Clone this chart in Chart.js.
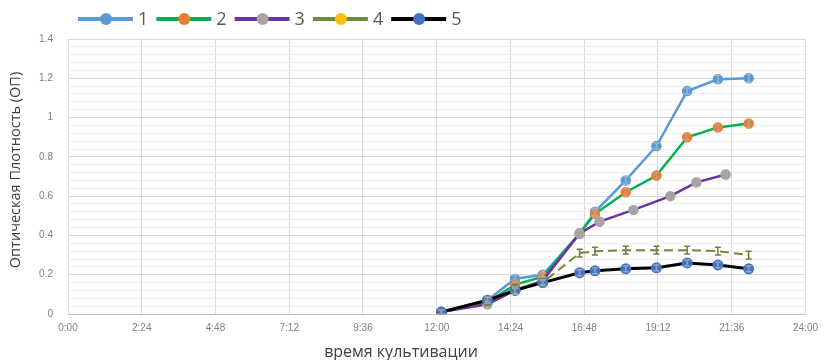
<!DOCTYPE html>
<html>
<head>
<meta charset="utf-8">
<script src="https://cdn.jsdelivr.net/npm/chart.js@4.4.1/dist/chart.umd.min.js"></script>
<style>
  html, body { margin: 0; padding: 0; background: #ffffff; }
  #wrap { width: 826px; height: 360px; position: relative; }
</style>
</head>
<body>
<div id="wrap"><canvas id="chart" width="826" height="360"></canvas></div>
<script>
// Sampling times, hours since start of cultivation
const times = [12.15, 13.65, 14.55, 15.45, 16.65, 17.15, 18.15, 19.15, 20.15, 21.15, 22.15];
const times3 = [12.15, 13.65, 14.55, 15.45, 16.65, 17.3, 18.4, 19.6, 20.45, 21.4];

// Optical density per culture
const od1 = [0.01, 0.07, 0.18, 0.20, 0.41, 0.52, 0.68, 0.855, 1.135, 1.195, 1.20];
const od2 = [0.01, 0.06, 0.15, 0.19, 0.41, 0.51, 0.62, 0.705, 0.90, 0.95, 0.97];
const od3 = [0.01, 0.05, 0.12, 0.17, 0.41, 0.47, 0.53, 0.60, 0.67, 0.71];
const od4 = [0.01, 0.06, 0.13, 0.16, 0.31, 0.32, 0.325, 0.325, 0.325, 0.32, 0.30];
const od5 = [0.01, 0.07, 0.12, 0.16, 0.21, 0.22, 0.23, 0.235, 0.26, 0.25, 0.23];

// Standard deviations
const sd1 = [0.01, 0.015, 0.02, 0.02, 0.02, 0.02, 0.02, 0.015, 0.015, 0.02, 0.02];
const sd2 = [0.01, 0.015, 0.02, 0.02, 0.02, 0.02, 0.02, 0.015, 0.015, 0.02, 0.02];
const sd3 = [0.01, 0.015, 0.02, 0.02, 0.02, 0.02, 0.015, 0.015, 0.02, 0.02];
const sd4 = [0.01, 0.015, 0.02, 0.02, 0.02, 0.02, 0.02, 0.02, 0.02, 0.02, 0.02];
const sd5 = [0.01, 0.015, 0.015, 0.015, 0.015, 0.015, 0.015, 0.015, 0.015, 0.015, 0.015];

const seriesNames = ['1', '2', '3', '4', '5'];
const xTickValues = [0, 2.4, 4.8, 7.2, 9.6, 12, 14.4, 16.8, 19.2, 21.6, 24];
const yTickLabels = ['0', '0.2', '0.4', '0.6', '0.8', '1', '1.2', '1.4'];

const xTitle = 'время культивации';
const yTitle = 'Оптическая Плотность (ОП)';

const styles = [
  { line: '#5B9BD5', marker: '#5B9BD5', bar: '#9FB4C8', width: 2.5, radius: 4, dash: [] },
  { line: '#00B050', marker: '#ED7D31', bar: '#B9A08F', width: 2.5, radius: 4, dash: [] },
  { line: '#7030A0', marker: '#A5A5A5', bar: '#A5A5A5', width: 2.5, radius: 4, dash: [] },
  { line: '#6E8B3D', marker: '#FFC000', bar: '#6E7F3A', width: 2, radius: 0, dash: [9, 5] },
  { line: '#000000', marker: '#4472C4', bar: '#8EA3C8', width: 3, radius: 4, dash: [] }
];

const xs = [times, times, times3, times, times];
const ys = [od1, od2, od3, od4, od5];
const sds = [sd1, sd2, sd3, sd4, sd5];

function pairs(tx, vy) {
  return vy.map((v, i) => ({ x: tx[i], y: v }));
}

const datasets = seriesNames.map((name, i) => ({
  label: name,
  data: pairs(xs[i], ys[i]),
  borderColor: styles[i].line,
  backgroundColor: styles[i].marker,
  pointBackgroundColor: styles[i].marker,
  pointBorderColor: styles[i].marker,
  pointRadius: styles[i].radius,
  pointHoverRadius: styles[i].radius,
  borderWidth: styles[i].width,
  borderDash: styles[i].dash,
  tension: 0,
  fill: false,
  order: seriesNames.length - i
}));

function fmtTime(v) {
  const m = Math.round(v * 60);
  const h = Math.floor(m / 60);
  const mm = m % 60;
  return h + ':' + (mm < 10 ? '0' : '') + mm;
}

function isMajor(v) {
  const k = v / 0.2;
  return Math.abs(k - Math.round(k)) < 1e-6;
}

// Vertical error bars with caps
const errorBars = {
  id: 'errorBars',
  afterDatasetsDraw(chart) {
    const ctx = chart.ctx;
    const yScale = chart.scales.y;
    ctx.save();
    chart.data.datasets.forEach((ds, i) => {
      const meta = chart.getDatasetMeta(i);
      ctx.strokeStyle = styles[i].bar;
      ctx.lineWidth = 1.5;
      meta.data.forEach((pt, j) => {
        const v = ys[i][j];
        const e = sds[i][j];
        const yt = yScale.getPixelForValue(v + e);
        const yb = yScale.getPixelForValue(v - e);
        ctx.beginPath();
        ctx.moveTo(pt.x, yt); ctx.lineTo(pt.x, yb);
        ctx.moveTo(pt.x - 3, yt); ctx.lineTo(pt.x + 3, yt);
        ctx.moveTo(pt.x - 3, yb); ctx.lineTo(pt.x + 3, yb);
        ctx.stroke();
      });
    });
    ctx.restore();
  }
};

// Legend row (line + marker + name) and both axis titles
const decorations = {
  id: 'decorations',
  afterDraw(chart) {
    const ctx = chart.ctx;
    ctx.save();
    // legend
    ctx.font = '18px "Open Sans", "Liberation Sans", sans-serif';
    ctx.textBaseline = 'middle';
    let x = 78;
    const y = 19;
    seriesNames.forEach((name, i) => {
      ctx.strokeStyle = styles[i].line;
      ctx.lineWidth = 4;
      ctx.setLineDash([]);
      ctx.beginPath();
      ctx.moveTo(x, y); ctx.lineTo(x + 55, y);
      ctx.stroke();
      ctx.fillStyle = styles[i].marker;
      ctx.beginPath();
      ctx.arc(x + 28, y, 6, 0, Math.PI * 2);
      ctx.fill();
      ctx.fillStyle = '#595959';
      ctx.textAlign = 'left';
      ctx.fillText(name, x + 60, y + 1);
      x += 60 + ctx.measureText(name).width + 8;
    });
    // axis titles
    ctx.fillStyle = '#404040';
    ctx.textAlign = 'center';
    ctx.font = '16px "Open Sans", "Liberation Sans", sans-serif';
    ctx.fillText(xTitle, 401, 352);
    ctx.font = '14.5px "Open Sans", "Liberation Sans", sans-serif';
    ctx.translate(16, 170);
    ctx.rotate(-Math.PI / 2);
    ctx.fillText(yTitle, 0, 0);
    ctx.restore();
  }
};

new Chart(document.getElementById('chart'), {
  type: 'line',
  data: { datasets },
  options: {
    responsive: false,
    animation: false,
    layout: { padding: { top: 39, right: 15, left: 0, bottom: 0 } },
    plugins: {
      legend: { display: false },
      tooltip: { enabled: false }
    },
    scales: {
      x: {
        type: 'linear',
        min: 0,
        max: 24,
        afterBuildTicks(scale) {
          scale.ticks = xTickValues.map(v => ({ value: v }));
        },
        afterFit(scale) { scale.height = 46; },
        ticks: {
          callback: v => fmtTime(v),
          color: '#7f7f7f',
          font: { family: '"Liberation Sans", sans-serif', size: 10 },
          padding: 8,
          maxRotation: 0,
          autoSkip: false
        },
        grid: { color: '#d9d9d9', lineWidth: 1, drawTicks: false },
        border: { display: true, color: '#bfbfbf', width: 1 }
      },
      y: {
        type: 'linear',
        min: 0,
        max: 1.4,
        afterBuildTicks(scale) {
          const t = [];
          for (let k = 0; k <= 35; k++) t.push({ value: Math.round(k * 0.04 * 1000) / 1000 });
          scale.ticks = t;
        },
        afterFit(scale) { scale.width = 68; },
        ticks: {
          callback: v => isMajor(v) ? yTickLabels[Math.round(v / 0.2)] : '',
          color: '#7f7f7f',
          font: { family: '"Liberation Sans", sans-serif', size: 10 },
          padding: 15,
          autoSkip: false
        },
        grid: {
          color: c => isMajor(c.tick.value) ? '#d9d9d9' : '#eeeeee',
          lineWidth: 1,
          drawTicks: false
        },
        border: { display: false }
      }
    }
  },
  plugins: [errorBars, decorations]
});
</script>
</body>
</html>
